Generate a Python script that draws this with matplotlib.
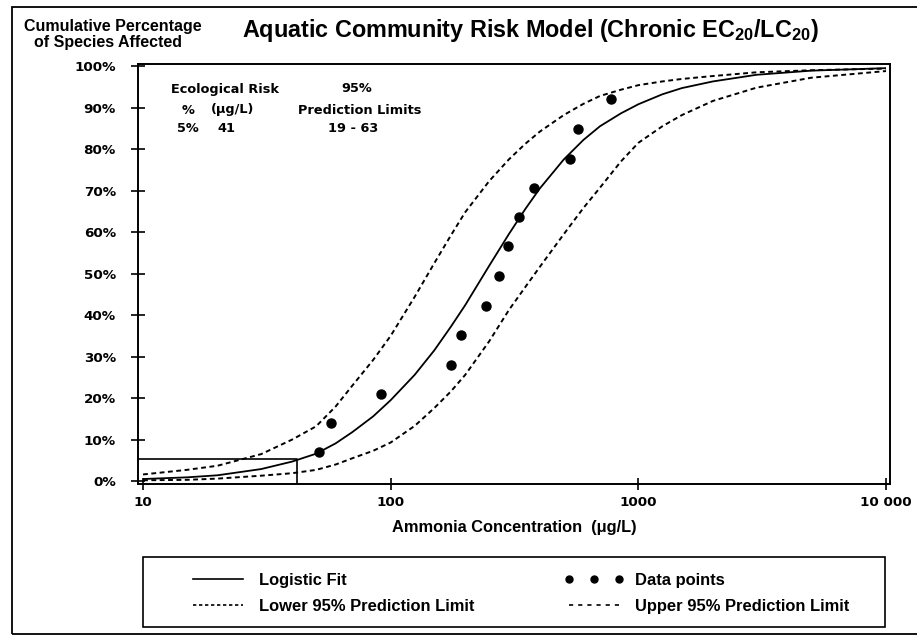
import numpy as np
import matplotlib.pyplot as plt
from matplotlib.lines import Line2D
from matplotlib.patches import Rectangle

plt.rcParams['mathtext.fontset'] = 'custom'
plt.rcParams['mathtext.bf'] = 'Liberation Sans:bold'
plt.rcParams['mathtext.default'] = 'bf'

# Data points (concentration ug/L, cumulative %)
data_conc = [51.5, 57.4, 91.4, 175, 192.8, 243, 274.5, 297.6, 328.7, 379.7, 529.5, 568.9, 778.7]
data_pct = [6.9, 13.9, 21.1, 27.9, 35.3, 42.2, 49.4, 56.6, 63.6, 70.7, 77.6, 84.9, 92.1]

# Curves at these concentrations
curve_conc = [10, 15, 20, 30, 40, 50, 60, 70, 85, 100, 125, 150, 175, 200, 250, 300,
              350, 400, 500, 600, 700, 850, 1000, 1250, 1500, 2000, 3000, 5000, 10000]
fit_pct = [0.5, 0.9, 1.4, 2.9, 4.7, 6.6, 9.1, 11.8, 15.6, 19.5, 25.6, 31.5, 37.2, 42.4,
           51.9, 59.5, 65.6, 70.5, 77.5, 82.2, 85.5, 88.6, 90.8, 93.2, 94.7, 96.3,
           97.9, 98.9, 99.5]
lower_pct = [1.6, 2.7, 3.7, 6.5, 10.0, 13.2, 18.0, 23.0, 29.2, 35.0, 44.4, 52.5, 59.2,
             64.8, 72.3, 77.5, 81.3, 84.2, 88.2, 90.9, 92.8, 94.3, 95.4, 96.3, 96.9,
             97.6, 98.5, 99.0, 99.4]
upper_pct = [0.2, 0.3, 0.6, 1.3, 1.9, 2.7, 4.0, 5.5, 7.3, 9.3, 13.3, 17.6, 21.6, 25.6,
             33.7, 41.2, 46.8, 51.6, 59.5, 65.8, 70.7, 77.0, 81.5, 85.5, 88.2, 91.6,
             94.8, 97.2, 98.8]

# 5% ecological risk box
hc5_conc = 42
hc5_pct = 5.3

x_ticks = [10, 100, 1000, 10000]
x_ticklabels = ['10', '100', '1000', '10 000']
y_ticks = list(range(0, 101, 10))

W, H = 917, 635
fig = plt.figure(figsize=(W / 100, H / 100), dpi=100)

def fx(px):
    return px / W

def fy(py):
    return 1 - py / H

ax = fig.add_axes([fx(138), fy(484), fx(890) - fx(138), fy(64) - fy(484)])
ax.set_xscale('log')
ax.set_xlim(9.546, 10378)
ax.set_ylim(-0.7, 100.5)

ax.plot(curve_conc, fit_pct, color='black', lw=1.3, solid_capstyle='butt')
ax.plot(curve_conc, lower_pct, color='black', lw=1.4, dashes=(2.5, 1.8))
ax.plot(curve_conc, upper_pct, color='black', lw=1.4, dashes=(2.5, 1.8))
ax.plot(data_conc, data_pct, 'o', color='black', markersize=6.5)

# box marking the 5% hazard concentration
ax.plot([9.546, hc5_conc, hc5_conc], [hc5_pct, hc5_pct, -0.7], color='black', lw=1.2)

for s in ax.spines.values():
    s.set_linewidth(1.4)

ax.set_xticks(x_ticks)
ax.set_xticklabels(x_ticklabels)
ax.minorticks_off()
ax.set_yticks(y_ticks)
ax.set_yticklabels([f'{v}%' for v in y_ticks])
ax.tick_params(axis='y', direction='inout', length=10, width=1.2, pad=11)
ax.tick_params(axis='x', direction='inout', length=9, width=1.2, pad=4)
for lab in ax.get_xticklabels() + ax.get_yticklabels():
    lab.set_fontfamily('DejaVu Sans')
    lab.set_fontweight('bold')
    lab.set_fontsize(9.7)

ax.set_xlabel('Ammonia Concentration  (\u03bcg/L)', family='Liberation Sans',
              fontweight='bold', fontsize=11.8, labelpad=8)

# risk summary text
tk = dict(transform=fig.transFigure, family='DejaVu Sans', fontweight='bold',
          fontsize=9.3, va='center')
fig.text(fx(171), fy(89), 'Ecological Risk', ha='left', **tk)
fig.text(fx(188), fy(110), '%', ha='center', **tk)
fig.text(fx(233), fy(110), '(\u03bcg/L)', ha='center', **tk)
fig.text(fx(188), fy(128), '5%', ha='center', **tk)
fig.text(fx(226), fy(128), '41', ha='center', **tk)
fig.text(fx(357), fy(89), '95%', ha='center', **tk)
fig.text(fx(360), fy(110), 'Prediction Limits', ha='center', **tk)
fig.text(fx(353), fy(128), '19 - 63', ha='center', **tk)

# title and y label
fig.text(fx(530), fy(31), r'Aquatic Community Risk Model (Chronic EC$_{20}$/LC$_{20}$)',
         ha='center', va='center', family='Liberation Sans', fontweight='bold', fontsize=16.8)
fig.text(fx(113), fy(27), 'Cumulative Percentage', ha='center', va='center',
         family='Liberation Sans', fontweight='bold', fontsize=11.5)
fig.text(fx(108), fy(42), 'of Species Affected', ha='center', va='center',
         family='Liberation Sans', fontweight='bold', fontsize=11.5)

# legend
handles = [
    Line2D([], [], color='black', lw=1.2),
    Line2D([], [], color='black', lw=1.2, dashes=(2, 1.6)),
    Line2D([], [], color='black', ls='none', marker='o', markersize=5),
    Line2D([], [], color='black', lw=1.2, dashes=(2.5, 3)),
]
labels = ['Logistic Fit', 'Lower 95% Prediction Limit', 'Data points',
          'Upper 95% Prediction Limit']
leg = fig.legend(handles, labels, ncol=2, numpoints=3,
                 bbox_to_anchor=(fx(188), fy(573)), loc='upper left', frameon=False,
                 borderpad=0, borderaxespad=0, handlelength=3.6, handletextpad=0.72,
                 columnspacing=5.4, labelspacing=0.68,
                 prop={'family': 'Liberation Sans', 'weight': 'bold', 'size': 11.9})
fig.patches.append(Rectangle((fx(143), fy(627)), fx(885) - fx(143), fy(557) - fy(627),
                             fill=False, lw=1.2, edgecolor='black',
                             transform=fig.transFigure))

# outer frame
fig.patches.append(Rectangle((fx(12), fy(634)), 1.0, fy(7) - fy(634), fill=False,
                             lw=1.3, edgecolor='black', transform=fig.transFigure))

fig.savefig('out.png', dpi=100)
